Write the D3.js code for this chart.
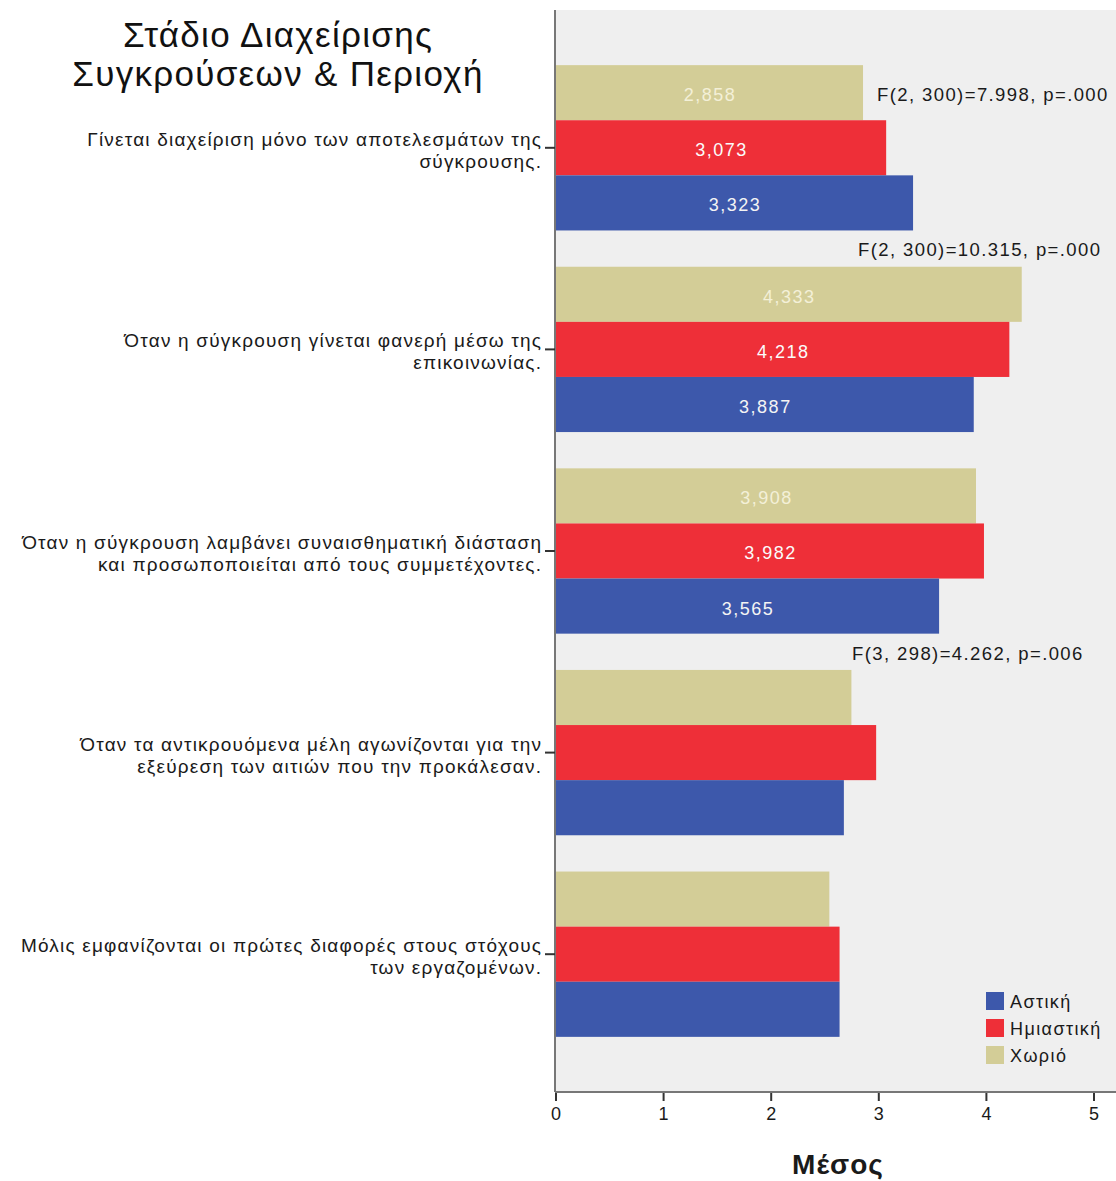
<!DOCTYPE html>
<html>
<head>
<meta charset="utf-8">
<script src="https://cdn.jsdelivr.net/npm/d3@7"></script>
<style>
  html, body { margin: 0; padding: 0; background: #fff; }
  svg { display: block; font-family: "Liberation Sans", Arial, sans-serif; }
</style>
</head>
<body>
<svg id="chart" width="1116" height="1181"></svg>
<script>
// Statements (two lines each), top to bottom
const categories = [
  ["Γίνεται διαχείριση μόνο των αποτελεσμάτων της", "σύγκρουσης."],
  ["Όταν η σύγκρουση γίνεται φανερή μέσω της", "επικοινωνίας."],
  ["Όταν η σύγκρουση λαμβάνει συναισθηματική διάσταση", "και προσωποποιείται από τους συμμετέχοντες."],
  ["Όταν τα αντικρουόμενα μέλη αγωνίζονται για την", "εξεύρεση των αιτιών που την προκάλεσαν."],
  ["Μόλις εμφανίζονται οι πρώτες διαφορές στους στόχους", "των εργαζομένων."]
];

// Area types, in bar order within each group (top to bottom)
const seriesNames = ["Χωριό", "Ημιαστική", "Αστική"];
const legendOrder = ["Αστική", "Ημιαστική", "Χωριό"];

// Mean values per area type
const chorio     = [2.858, 4.333, 3.908, 2.75, 2.545];
const imiastiki  = [3.073, 4.218, 3.982, 2.98, 2.64];
const astiki     = [3.323, 3.887, 3.565, 2.68, 2.64];

// Which groups carry value labels
const labelled = [true, true, true, false, false];

// ANOVA results attached to statements
const anovaGroup = [0, 1, 3];
const anovaText  = ["F(2, 300)=7.998, p=.000", "F(2, 300)=10.315, p=.000", "F(3, 298)=4.262, p=.006"];

const xTicks = [0, 1, 2, 3, 4, 5];

const values = { "Χωριό": chorio, "Ημιαστική": imiastiki, "Αστική": astiki };
const colors = { "Αστική": "#3d58ab", "Ημιαστική": "#ee2f38", "Χωριό": "#d3cd97" };
const labelColors = { "Αστική": "#f4f4f4", "Ημιαστική": "#fbfbfb", "Χωριό": "#f3f0d8" };

const svg = d3.select("#chart");

const plot = { left: 555, right: 1116, top: 10, bottom: 1092 };
const SPACING = 1.2;

const x = d3.scaleLinear().domain([0, 5]).range([555.5, 1093.5]);

const y = d3.scaleBand()
  .domain(d3.range(categories.length))
  .range([47, 1055])
  .paddingInner(0.18)
  .paddingOuter(0.09);

const ySub = d3.scaleBand()
  .domain(seriesNames)
  .range([0, y.bandwidth()]);

// plot background
svg.append("rect")
  .attr("x", plot.left).attr("y", plot.top)
  .attr("width", plot.right - plot.left).attr("height", plot.bottom - plot.top)
  .attr("fill", "#efefef");

// bars
const groups = svg.append("g").selectAll("g")
  .data(categories.map((c, i) => i))
  .join("g")
  .attr("transform", i => `translate(0,${y(i)})`);

groups.selectAll("rect")
  .data(i => seriesNames.map(s => ({ s, v: values[s][i], i })))
  .join("rect")
  .attr("x", x(0))
  .attr("y", d => ySub(d.s))
  .attr("width", d => x(d.v) - x(0))
  .attr("height", ySub.bandwidth())
  .attr("fill", d => colors[d.s]);

// value labels inside bars (comma decimal)
const fmt = v => d3.format(".3f")(v).replace(".", ",");
groups.selectAll("text.val")
  .data(i => labelled[i] ? seriesNames.map(s => ({ s, v: values[s][i] })) : [])
  .join("text")
  .attr("class", "val")
  .attr("x", d => (x(0) + x(d.v)) / 2 + 0.75)
  .attr("y", d => ySub(d.s) + ySub.bandwidth() / 2 + 2)
  .attr("dy", "0.36em")
  .attr("text-anchor", "middle")
  .attr("font-size", 18)
  .attr("letter-spacing", 1.5)
  .attr("fill", d => labelColors[d.s])
  .text(d => fmt(d.v));

// ANOVA annotations
const anovaPlacement = [
  i => ({ x: x(chorio[i]) + 14, y: y(i) + ySub("Χωριό") + ySub.bandwidth() / 2 + 2 }),
  i => ({ x: 858, y: y(i) - 17 }),
  i => ({ x: 852, y: y(i) - 17 })
];
svg.append("g").selectAll("text")
  .data(anovaGroup.map((g, k) => ({ g, k, t: anovaText[k] })))
  .join("text")
  .attr("x", d => anovaPlacement[d.k](d.g).x)
  .attr("y", d => anovaPlacement[d.k](d.g).y)
  .attr("dy", "0.36em")
  .attr("font-size", 18.5)
  .attr("letter-spacing", 1.4)
  .attr("fill", "#1a1a1a")
  .text(d => d.t);

// y axis line and ticks
svg.append("line")
  .attr("x1", plot.left).attr("x2", plot.left)
  .attr("y1", plot.top).attr("y2", plot.bottom)
  .attr("stroke", "#777").attr("stroke-width", 2);

const yCenters = categories.map((c, i) => y(i) + y.bandwidth() / 2);
svg.append("g").selectAll("line")
  .data(yCenters)
  .join("line")
  .attr("x1", plot.left - 10).attr("x2", plot.left)
  .attr("y1", d => d).attr("y2", d => d)
  .attr("stroke", "#333").attr("stroke-width", 2);

// category labels
const catText = svg.append("g").selectAll("text")
  .data(categories)
  .join("text")
  .attr("text-anchor", "end")
  .attr("font-size", 19)
  .attr("letter-spacing", SPACING)
  .attr("fill", "#1a1a1a");
catText.selectAll("tspan")
  .data((d, i) => d.map((line, k) => ({ line, k, i })))
  .join("tspan")
  .attr("x", 541 + SPACING)
  .attr("y", d => yCenters[d.i] + (d.k === 0 ? -2 : 20))
  .text(d => d.line);

// x axis
const xAxis = d3.axisBottom(x).tickValues(xTicks).tickSize(9).tickPadding(6).tickFormat(d3.format("d"));
const gx = svg.append("g")
  .attr("transform", `translate(0,${plot.bottom})`)
  .call(xAxis);
gx.select(".domain").remove();
gx.append("line")
  .attr("x1", plot.left).attr("x2", plot.right)
  .attr("stroke", "#777").attr("stroke-width", 2);
gx.selectAll(".tick line").attr("stroke", "#333").attr("stroke-width", 2);
gx.selectAll(".tick text")
  .attr("font-size", 18)
  .attr("font-family", "Liberation Sans, Arial, sans-serif")
  .attr("fill", "#1a1a1a");

// x axis title
svg.append("text")
  .attr("x", 838).attr("y", 1174)
  .attr("text-anchor", "middle")
  .attr("font-size", 28)
  .attr("font-weight", "bold")
  .attr("letter-spacing", 1)
  .attr("fill", "#1a1a1a")
  .text("Μέσος");

// chart title
const title = svg.append("text")
  .attr("text-anchor", "middle")
  .attr("font-size", 35)
  .attr("letter-spacing", 1.3)
  .attr("fill", "#111");
title.append("tspan").attr("x", 278).attr("y", 47).text("Στάδιο Διαχείρισης");
title.append("tspan").attr("x", 278).attr("y", 86).text("Συγκρούσεων & Περιοχή");

// legend
const legend = svg.append("g").selectAll("g")
  .data(legendOrder)
  .join("g")
  .attr("transform", (d, i) => `translate(986,${992 + i * 27})`);
legend.append("rect")
  .attr("width", 18).attr("height", 18)
  .attr("fill", d => colors[d]);
legend.append("text")
  .attr("x", 24).attr("y", 10)
  .attr("dy", "0.36em")
  .attr("font-size", 18)
  .attr("letter-spacing", 1.4)
  .attr("fill", "#1a1a1a")
  .text(d => d);
</script>
</body>
</html>
